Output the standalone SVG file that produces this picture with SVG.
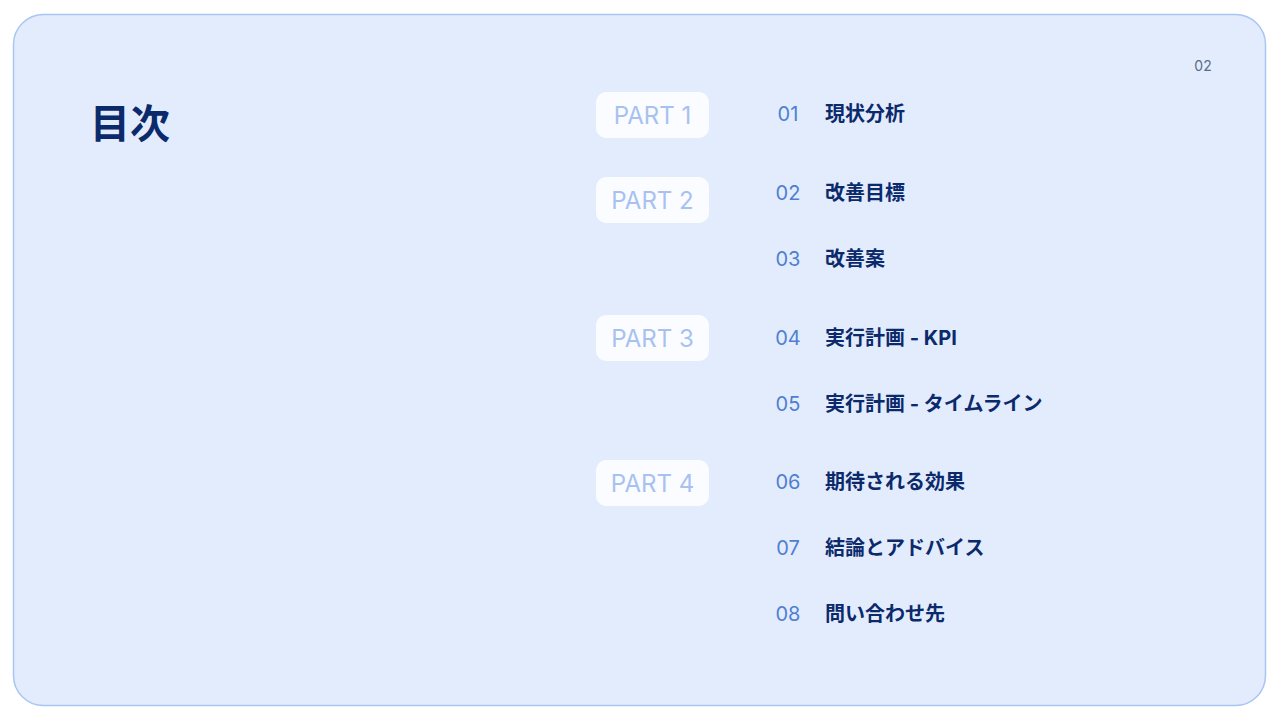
<svg xmlns="http://www.w3.org/2000/svg" width="1280" height="720" viewBox="0 0 1280 720">
<style>
.part rect{fill:#fff;fill-opacity:0.85}
.part text{font-family:Inter,"Liberation Sans",sans-serif;font-size:24px;fill:#a7c2f0;text-anchor:middle}
.num{font-family:Inter,"Liberation Sans",sans-serif;font-size:20px;fill:#4f7fd0;text-anchor:middle}
.t{font-family:Inter,"Noto Sans CJK JP",sans-serif;font-size:20px;font-weight:bold;fill:#0b2a6b}
</style>
<rect x="0" y="0" width="1280" height="720" fill="#ffffff"/>
<rect x="13.5" y="14.5" width="1252" height="691" rx="30" fill="#e3ecfd" stroke="#a9c6f2" stroke-width="1.5"/>
<text x="1203" y="71" font-family="Inter,'Liberation Sans',sans-serif" font-size="14" fill="#5a6b8a" text-anchor="middle">02</text>
<text x="90" y="138" font-family="Inter,'Noto Sans CJK JP',sans-serif" font-size="40" font-weight="bold" fill="#0b2a6b">目次</text>
<g id="part1" class="part"><rect x="596" y="92" width="113" height="46" rx="10"/><text x="652.5" y="124">PART 1</text></g>
<g id="part2" class="part"><rect x="596" y="177" width="113" height="46" rx="10"/><text x="652.5" y="209">PART 2</text></g>
<g id="part3" class="part"><rect x="596" y="315" width="113" height="46" rx="10"/><text x="652.5" y="347">PART 3</text></g>
<g id="part4" class="part"><rect x="596" y="460" width="113" height="46" rx="10"/><text x="652.5" y="492">PART 4</text></g>
<g id="item1"><text class="num" x="788" y="121">01</text><text class="t" x="825" y="121">現状分析</text></g>
<g id="item2"><text class="num" x="788" y="200">02</text><text class="t" x="825" y="200">改善目標</text></g>
<g id="item3"><text class="num" x="788" y="266">03</text><text class="t" x="825" y="266">改善案</text></g>
<g id="item4"><text class="num" x="788" y="345">04</text><text class="t" x="825" y="345">実行計画 - KPI</text></g>
<g id="item5"><text class="num" x="788" y="411">05</text><text class="t" x="825" y="411">実行計画 - タイムライン</text></g>
<g id="item6"><text class="num" x="788" y="489">06</text><text class="t" x="825" y="489">期待される効果</text></g>
<g id="item7"><text class="num" x="788" y="555">07</text><text class="t" x="825" y="555">結論とアドバイス</text></g>
<g id="item8"><text class="num" x="788" y="621">08</text><text class="t" x="825" y="621">問い合わせ先</text></g>
<g id="connectors"></g>
</svg>
